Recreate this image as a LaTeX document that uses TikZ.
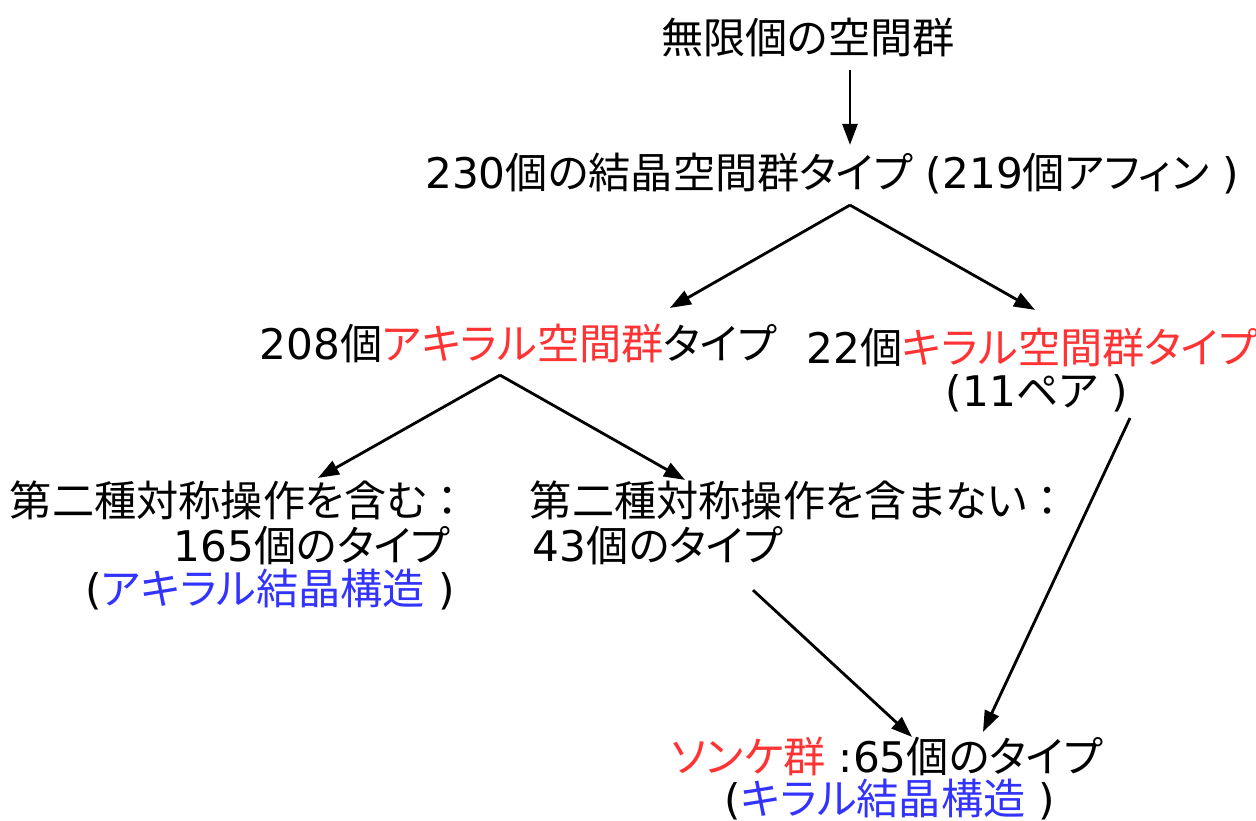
\documentclass[tikz,border=0pt]{standalone}
\usepackage{fontspec}
\setmainfont{DejaVu Sans}
\newfontfamily\jpfont{Noto Sans CJK JP}[RawFeature=+palt]
\newfontfamily\jpwide{Noto Sans CJK JP}
\usepackage{tikz}
\usetikzlibrary{arrows.meta,
	calc
}
\definecolor{chiralred}{RGB}{255,51,51}
\definecolor{crystalblue}{RGB}{51,51,255}
\newcommand{\JP}[1]{{\jpfont #1}}
\newcommand{\RedText}[1]{\textcolor{chiralred}{\jpfont #1}}
\newcommand{\BlueText}[1]{\textcolor{crystalblue}{\jpfont #1}}
\tikzset{SpaceGroups/.style = {
		x=0.01cm, y=-0.01cm,
		every node/.style = {inner sep=0pt, outer sep=0pt,
			font=\fontsize{12}{14}\selectfont,
			text height=10.56pt, text depth=1.44pt
		},
		flowarrow/.style = {line width=0.8pt,
			-{Triangle[length=0.21cm,width=0.15cm]}
		}
	}% end of SpaceGroups style
}

\begin{document}
\begin{tikzpicture}[SpaceGroups]
  \useasboundingbox (0,0) rectangle (1256,820);

  \node (infinite) at (808,37) {\JP{無限個の空間群}};
  \node (all) at (832,172) {230\JP{個の結晶空間群タイプ} (219\JP{個アフィン} )};

  \node (achiral) at (518,343) {208\JP{個}\RedText{アキラル空間群}\JP{タイプ}};
  \node (chiral) at (1032,347) {22\JP{個}\RedText{キラル空間群タイプ}};
  \node (chiralpairs) at (1037,390) {(11\JP{ペア} )};

  \node[anchor=west] (second) at (10,500) {\JP{第二種対称操作を含む}{\jpwide ：}};
  \node[anchor=east] (secondnum) at (450,545) {165\JP{個のタイプ}};
  \node[anchor=east] (secondcr) at (455,588) {(\BlueText{アキラル結晶構造} )};
  \node[anchor=west] (first) at (530,500) {\JP{第二種対称操作を含まない}{\jpwide ：}};
  \node[anchor=west] (firstnum) at (533,545) {43\JP{個のタイプ}};

  \node (sohncke) at (887,756) {\RedText{ソンケ群} :65\JP{個のタイプ}};
  \node (sohnckecr) at (890,798) {(\BlueText{キラル結晶構造} )};

  \draw[flowarrow] ($(infinite.south)+(42,12)$) -- ($(all.north)+(18,-6)$);
  \draw[flowarrow] ($(all.south)+(18,12)$) -- ($(achiral.north)+(152,-14)$);
  \draw[flowarrow] ($(all.south)+(18,12)$) -- ($(chiral.north)+(3,-16)$);
  \draw[flowarrow] ($(achiral.south)+(-18,11)$) -- ($(second.north west)+(308,-1)$);
  \draw[flowarrow] ($(achiral.south)+(-18,11)$) -- ($(first.north west)+(155,1)$);
  \draw[flowarrow] ($(firstnum.south west)+(220,24)$) -- ($(sohncke.north)+(25,2)$);
  \draw[flowarrow] ($(chiralpairs.south)+(93,7)$) -- ($(sohncke.north)+(96,-3)$);
\end{tikzpicture}
\end{document}
